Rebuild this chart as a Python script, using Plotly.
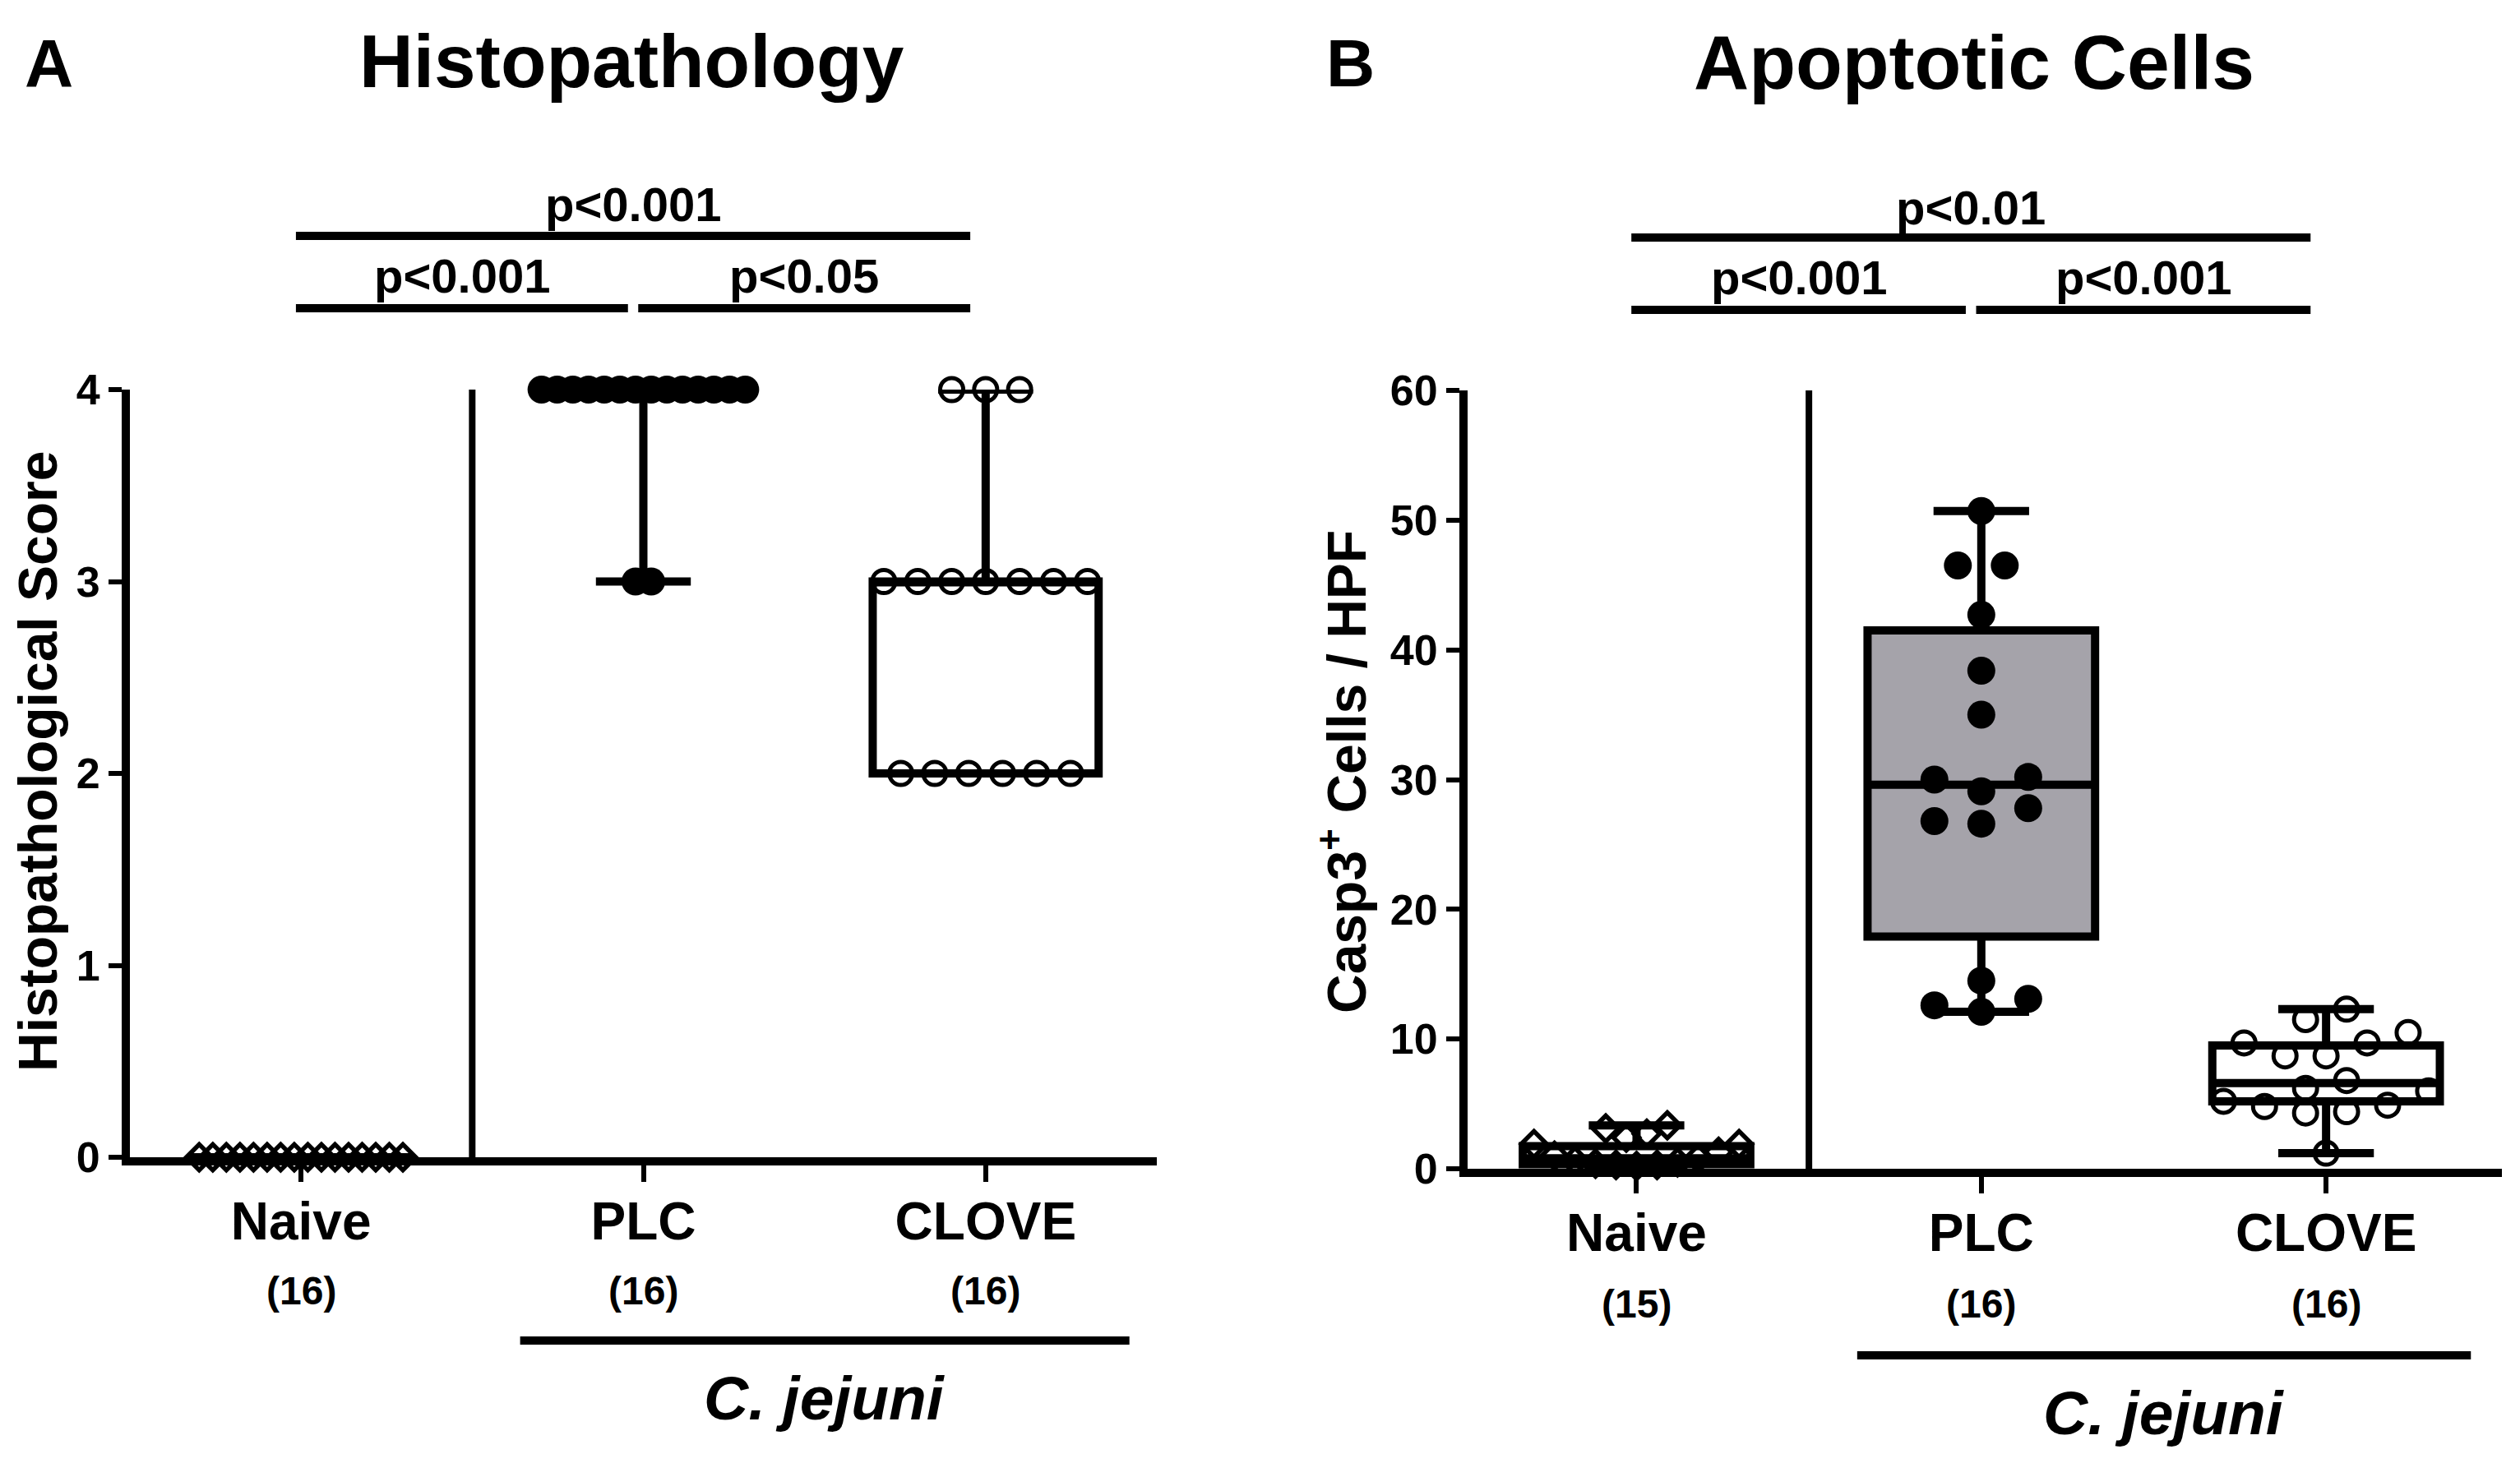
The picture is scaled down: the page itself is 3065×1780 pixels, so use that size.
import plotly.graph_objects as go

# ---- data ----
groups = ["Naive", "PLC", "CLOVE"]

hist_naive = [0] * 16
hist_plc = [4] * 14 + [3] * 2
hist_clove = [4] * 3 + [3] * 7 + [2] * 6
hist_counts = ["(16)", "(16)", "(16)"]
# q1, median, q3, lower whisker, upper whisker
hist_box = {
    "Naive": [0, 0, 0, 0, 0],
    "PLC": [4, 4, 4, 3, 4],
    "CLOVE": [2, 3, 3, 2, 4],
}

apo_naive = [3.35, 3.1, 2.7, 2.4, 1.9, 1.9, 1.3, 1.0, 0.8, 0.6, 0.5, 0.4, 0.3, 0.3, 0.2]
apo_plc = [50.7, 46.5, 46.5, 42.7, 38.4, 35.0, 30.2, 30.0, 29.1, 27.8, 26.8, 26.6,
           14.5, 13.1, 12.6, 12.1]
apo_clove = [12.3, 11.5, 10.5, 9.7, 9.7, 8.7, 8.7, 6.8, 6.2, 6.0, 5.2, 4.9, 4.8, 4.4,
             4.3, 1.2]
apo_counts = ["(15)", "(16)", "(16)"]
apo_box = {
    "Naive": [0.35, 0.8, 1.75, 0.2, 3.35],
    "PLC": [17.9, 29.6, 41.5, 12.1, 50.7],
    "CLOVE": [5.2, 6.6, 9.5, 1.2, 12.3],
}

hist_pvals = ["p<0.001", "p<0.05", "p<0.001"]
apo_pvals = ["p<0.001", "p<0.001", "p<0.01"]
comparisons = [(0, 1), (1, 2), (0, 2)]

W, H = 3065, 1780
OFF_X = 8  # the page body margin shifts the figure sideways by this much
FONT = "Liberation Sans, Arial, sans-serif"
GRAY = "#a5a3aa"


def px_x(p):
    return (p - OFF_X) / W


def px_y(p):
    return 1 - p / H


def swarm(values, center, bin_h, step, max_span):
    # simple row-based scatter layout (like the column scatter in Prism)
    order = sorted(range(len(values)), key=lambda i: values[i])
    rows, cur = [], []
    for i in order:
        if cur and values[i] - values[cur[0]] > bin_h:
            rows.append(cur)
            cur = []
        cur.append(i)
    rows.append(cur)
    widest = max(len(r) for r in rows)
    sp = step if widest < 2 else min(step, max_span / (widest - 1))
    xs = [center] * len(values)
    for row in rows:
        n = len(row)
        slots = [(k - (n - 1) / 2) * sp for k in range(n)]
        slots.sort(key=lambda s: (abs(s), s))
        for i, s in zip(row, slots):
            xs[i] = center + s
    return xs


fig = go.Figure()

panels = [
    dict(xa="x", ya="y", data=[hist_naive, hist_plc, hist_clove], box=hist_box,
         bin_h=0.3, step=0.1),
    dict(xa="x2", ya="y2", data=[apo_naive, apo_plc, apo_clove], box=apo_box,
         bin_h=1.9, step=0.136),
]

fills = {"Naive": "white", "PLC": GRAY, "CLOVE": "white"}

for pi, p in enumerate(panels):
    for gi, g in enumerate(groups):
        q1, med, q3, lo, hi = p["box"][g]
        fig.add_trace(go.Box(
            x=[gi], q1=[q1], median=[med], q3=[q3], lowerfence=[lo], upperfence=[hi],
            width=0.66, whiskerwidth=0.42,
            fillcolor=fills[g] if pi == 1 else "white",
            line=dict(color="black", width=10),
            xaxis=p["xa"], yaxis=p["ya"], showlegend=False, hoverinfo="skip",
        ))

    marker_styles = [
        dict(symbol="diamond-open", size=24, color="black", line=dict(width=5.5, color="black")),
        dict(symbol="circle", size=34, color="black", line=dict(width=0)),
        dict(symbol="circle-open", size=28, color="black", line=dict(width=5, color="black")),
    ]
    for gi, vals in enumerate(p["data"]):
        xs = swarm(vals, gi, p["bin_h"], p["step"], 0.595)
        fig.add_trace(go.Scatter(
            x=xs, y=vals, mode="markers", marker=marker_styles[gi],
            cliponaxis=False, xaxis=p["xa"], yaxis=p["ya"], showlegend=False,
            hoverinfo="skip",
        ))

axis_common = dict(
    showline=True, linecolor="black", linewidth=10, ticks="outside",
    tickcolor="black", tickwidth=6, showgrid=False, zeroline=False,
    automargin=False,
)

fig.update_layout(
    width=W, height=H,
    margin=dict(l=0, r=0, t=0, b=0, pad=0, autoexpand=False),
    showlegend=False,
    paper_bgcolor="white", plot_bgcolor="white",
    font=dict(family=FONT, color="black", weight="bold"),
    xaxis=dict(domain=[px_x(158), px_x(1407)], range=[-0.5, 2.5], tickvals=[0, 1, 2],
               ticktext=groups, ticklen=20, ticklabelstandoff=-7,
               tickfont=dict(size=64, family=FONT, weight="bold"), anchor="y",
               **axis_common),
    yaxis=dict(domain=[px_y(1400), px_y(466)], range=[0, 4], tickvals=[0, 1, 2, 3, 4],
               ticklen=16, tickfont=dict(size=52, family=FONT, weight="bold"),
               anchor="x", **axis_common),
    xaxis2=dict(domain=[px_x(1785), px_x(3043)], range=[-0.49, 2.51], tickvals=[0, 1, 2],
                ticktext=groups, ticklen=20, ticklabelstandoff=-7,
                tickfont=dict(size=64, family=FONT, weight="bold"), anchor="y2",
                **axis_common),
    yaxis2=dict(domain=[px_y(1414), px_y(467)], range=[0, 60],
                tickvals=[0, 10, 20, 30, 40, 50, 60], ticklen=16,
                tickfont=dict(size=52, family=FONT, weight="bold"), anchor="x2",
                **axis_common),
)

annotations = []
shapes = []


def text(x, y, s, size, xref="paper", italic=False, angle=0):
    annotations.append(dict(
        x=x, y=y, xref=xref, yref="paper", text=s, showarrow=False,
        xanchor="center", yanchor="middle", textangle=angle,
        font=dict(size=size, family=FONT, color="black", weight="bold",
                  style="italic" if italic else "normal"),
    ))


# panel letters and titles
text(px_x(59), px_y(68), "A", 82)
text(px_x(1642), px_y(68), "B", 82)
text(px_x(768), px_y(66), "Histopathology", 91)
text(px_x(2401), px_y(68), "Apoptotic Cells", 93)

# y-axis titles
text(px_x(46), px_y(919), "Histopathological Score", 66, angle=-90)
text(px_x(1633), px_y(931), "Casp3<sup>+</sup> Cells / HPF", 66, angle=-90)

panel_geo = [
    dict(xa="x", ya="y", top=4, pvals=hist_pvals, counts=hist_counts,
         bars=[367, 367, 279], labels=[327, 327, 241], count_y=1562,
         brk_y=1623, cj_y=1693),
    dict(xa="x2", ya="y2", top=60, pvals=apo_pvals, counts=apo_counts,
         bars=[369, 369, 281], labels=[329, 329, 245], count_y=1578,
         brk_y=1641, cj_y=1711),
]

for g in panel_geo:
    # separator between naive and infected groups
    shapes.append(dict(type="line", xref=g["xa"], yref=g["ya"], x0=0.5, x1=0.5,
                       y0=0, y1=g["top"], line=dict(color="black", width=8)))
    # significance bars
    for (a, b), pv, by, ly in zip(comparisons, g["pvals"], g["bars"], g["labels"]):
        x0, x1 = a - 0.015, b - 0.045
        shapes.append(dict(type="line", xref=g["xa"], yref="paper", x0=x0, x1=x1,
                           y0=px_y(by), y1=px_y(by), line=dict(color="black", width=10)))
        text((x0 + x1) / 2, px_y(ly), pv, 58, xref=g["xa"])
    # group sizes
    for gi, c in enumerate(g["counts"]):
        text(gi, px_y(g["count_y"]), c, 48, xref=g["xa"])
    # infected bracket
    shapes.append(dict(type="line", xref=g["xa"], yref="paper", x0=0.64, x1=2.42,
                       y0=px_y(g["brk_y"]), y1=px_y(g["brk_y"]),
                       line=dict(color="black", width=10)))
    text(1.53, px_y(g["cj_y"]), "C. jejuni", 75, xref=g["xa"], italic=True)

fig.update_layout(annotations=annotations, shapes=shapes)

fig.write_html("out.html")
